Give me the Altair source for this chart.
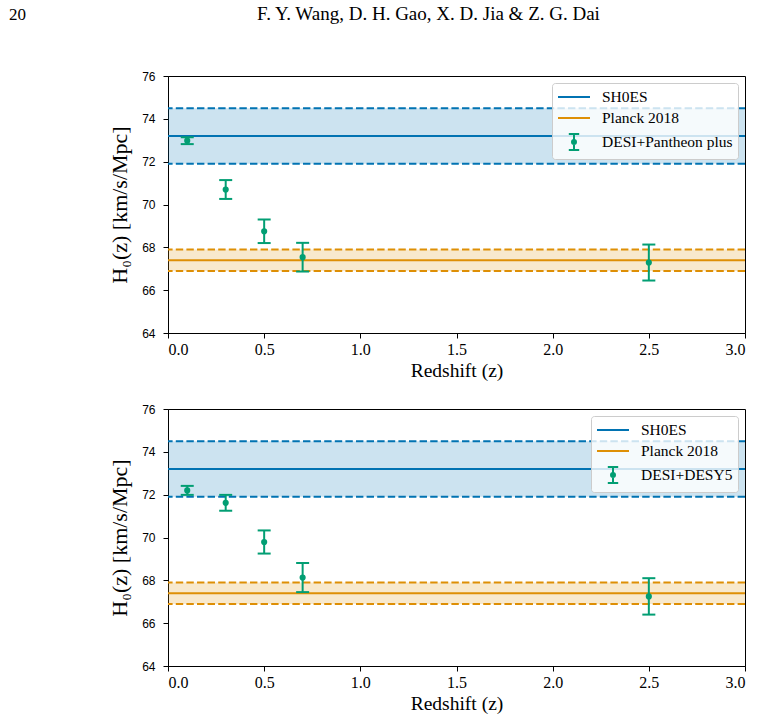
import altair as alt
import pandas as pd

# Redshift bins of the H0(z) reconstruction
z_bins = [0.1, 0.3, 0.5, 0.7, 2.5]

# DESI + Pantheon plus
h0_pantheon = [72.98, 70.70, 68.75, 67.54, 67.29]
err_pantheon = [0.16, 0.44, 0.55, 0.67, 0.84]

# DESI + DESY5
h0_desy5 = [72.20, 71.62, 69.79, 68.13, 67.25]
err_desy5 = [0.21, 0.37, 0.54, 0.68, 0.85]

# Local and CMB reference values (mean, 1-sigma)
ref_names = ["SH0ES", "Planck 2018"]
ref_mean = [73.2, 67.4]
ref_sigma = [1.3, 0.5]

x_ticks = [0.0, 0.5, 1.0, 1.5, 2.0, 2.5, 3.0]
y_ticks = [64, 66, 68, 70, 72, 74, 76]

page_number = "20"
running_head = "F. Y. Wang, D. H. Gao, X. D. Jia & Z. G. Dai"

BLUE = "#0173b2"
ORANGE = "#de8f05"
GREEN = "#029e73"
REF_COLORS = [BLUE, ORANGE]
SERIF = "Liberation Serif"

PANEL_W = 577
PANEL_H = 257

# legend glyphs: a horizontal line for the reference values, an error bar for the data
LINE_GLYPH = "M-1,0H3"
ERRBAR_GLYPH = ("M1,-1V1M0.35,-1H1.65M0.35,1H1.65"
                "M0.75,0A0.25,0.25,0,1,1,1.25,0A0.25,0.25,0,1,1,0.75,0")

xs = alt.Scale(domain=[x_ticks[0], x_ticks[-1]], nice=False, zero=False)
ys = alt.Scale(domain=[y_ticks[0], y_ticks[-1]], nice=False, zero=False)
xaxis = alt.Axis(values=x_ticks, format=".1f", title="Redshift (z)")
yaxis = alt.Axis(values=y_ticks, format="d", title="H₀(z) [km/s/Mpc]")


def reference_layers(i):
    """Shaded 1-sigma band, dashed edges and solid mean line for one reference."""
    m, s, c = ref_mean[i], ref_sigma[i], REF_COLORS[i]
    df = pd.DataFrame({"name": [ref_names[i]], "mid": [m], "lo": [m - s], "hi": [m + s],
                       "z0": [x_ticks[0]], "z1": [x_ticks[-1]]})
    band = alt.Chart(df).mark_rect(color=c, opacity=0.2).encode(
        x=alt.X("z0:Q", scale=xs, axis=xaxis), x2="z1:Q",
        y=alt.Y("lo:Q", scale=ys, axis=yaxis), y2="hi:Q")
    lo = alt.Chart(df).mark_rule(color=c, strokeWidth=2, strokeDash=[7.4, 3.2]).encode(
        y=alt.Y("lo:Q", scale=ys))
    hi = alt.Chart(df).mark_rule(color=c, strokeWidth=2, strokeDash=[7.4, 3.2]).encode(
        y=alt.Y("hi:Q", scale=ys))
    mid = alt.Chart(df).mark_rule(color=c, strokeWidth=2).encode(y=alt.Y("mid:Q", scale=ys))
    return [band, lo, hi, mid]


def panel(label, h0, err):
    pts = pd.DataFrame({
        "z": z_bins,
        "H0": h0,
        "lo": [v - e for v, e in zip(h0, err)],
        "hi": [v + e for v, e in zip(h0, err)],
    })
    names = ref_names + [label]
    keys = pd.DataFrame({"name": names})
    cs = alt.Scale(domain=names, range=REF_COLORS + [GREEN])
    ss = alt.Scale(domain=names, range=[LINE_GLYPH, LINE_GLYPH, ERRBAR_GLYPH])

    bars = alt.Chart(pts).mark_rule(strokeWidth=2, color=GREEN).encode(
        x=alt.X("z:Q", scale=xs), y=alt.Y("lo:Q", scale=ys), y2="hi:Q")
    cap_lo = alt.Chart(pts).mark_tick(orient="horizontal", size=13, thickness=2,
                                      color=GREEN, opacity=1).encode(
        x=alt.X("z:Q", scale=xs), y=alt.Y("lo:Q", scale=ys))
    cap_hi = alt.Chart(pts).mark_tick(orient="horizontal", size=13, thickness=2,
                                      color=GREEN, opacity=1).encode(
        x=alt.X("z:Q", scale=xs), y=alt.Y("hi:Q", scale=ys))
    dots = alt.Chart(pts).mark_point(filled=True, size=38, color=GREEN, opacity=1).encode(
        x=alt.X("z:Q", scale=xs), y=alt.Y("H0:Q", scale=ys))

    legend = alt.Legend(
        title=None, orient="top-right", offset=7,
        fillColor="rgba(255,255,255,0.8)", strokeColor="#cccccc", cornerRadius=3,
        padding=5, rowPadding=3, symbolSize=256, symbolStrokeWidth=2,
        labelOffset=27, labelFont=SERIF, labelFontSize=15.5, labelColor="black",
        labelLimit=300,
    )
    # carrier marks for the legend only; they sit outside the clipped plot area
    keyed = alt.Chart(keys).mark_point(filled=False, opacity=1, strokeWidth=2, clip=True).encode(
        x=alt.value(-200), y=alt.value(-200),
        color=alt.Color("name:N", scale=cs, legend=legend),
        fill=alt.Fill("name:N", scale=cs, legend=legend),
        shape=alt.Shape("name:N", scale=ss, legend=legend),
    )

    layers = reference_layers(0) + reference_layers(1) + [bars, cap_lo, cap_hi, dots, keyed]
    return alt.layer(*layers).properties(
        width=PANEL_W, height=PANEL_H,
        view=alt.ViewBackground(stroke="black", strokeWidth=1),
    )


head_df = pd.DataFrame({"t": [page_number]})
auth_df = pd.DataFrame({"t": [running_head]})
header = alt.layer(
    alt.Chart(head_df).mark_text(align="left", baseline="alphabetic", font=SERIF,
                                 fontSize=17, color="black").encode(
        x=alt.value(-159), y=alt.value(19), text="t:N"),
    alt.Chart(auth_df).mark_text(align="center", baseline="alphabetic", font=SERIF,
                                 fontSize=19, color="black").encode(
        x=alt.value(260.5), y=alt.value(19), text="t:N"),
).properties(width=PANEL_W, height=45,
             view=alt.ViewBackground(stroke="transparent"))

top = panel("DESI+Pantheon plus", h0_pantheon, err_pantheon)
bottom = panel("DESI+DESY5", h0_desy5, err_desy5)

chart = alt.vconcat(header, top, bottom, spacing=22).properties(
    padding={"left": 8, "top": 0, "right": 10, "bottom": 10},
).resolve_scale(color="independent", fill="independent", shape="independent").configure_axis(
    grid=False, domainColor="black", domainWidth=1, tickColor="black", tickWidth=1,
    tickSize=5, labelColor="black", titleColor="black", titleFont=SERIF,
    titleFontWeight="normal",
).configure_axisX(
    labelFont=SERIF, labelFontSize=16, labelPadding=3, titleFontSize=19.5, titlePadding=4,
).configure_axisY(
    labelFont="Liberation Sans", labelFontSize=12, labelPadding=8, titleFontSize=22,
    titlePadding=10,
)

chart.save("out.html", embed_options={"renderer": "svg", "actions": False})
